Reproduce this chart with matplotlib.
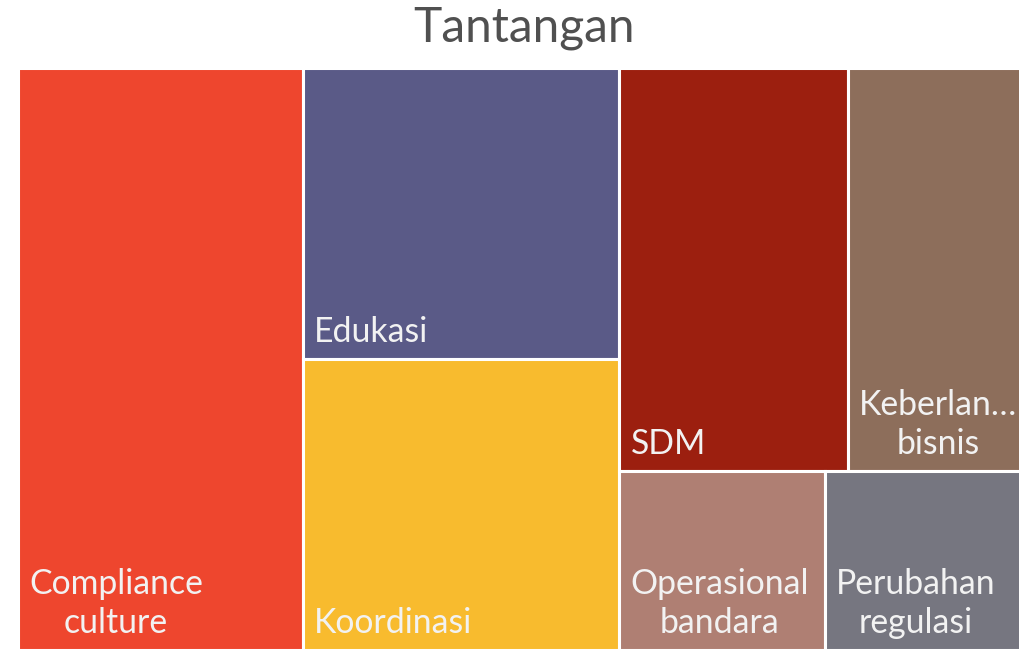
import matplotlib
matplotlib.use("Agg")
import matplotlib.pyplot as plt
from matplotlib.patches import Rectangle

# donnees du treemap (trie par valeur decroissante)
labels = ["Compliance\nculture", "Edukasi", "Koordinasi", "SDM",
          "Keberlan…\nbisnis", "Operasional\nbandara", "Perubahan\nregulasi"]
values = [9, 5, 5, 5, 4, 2, 2]
colors = ["#EE462E", "#5A5A87", "#F8BB2E", "#9C1F0F",
          "#8D6E5B", "#AF7F73", "#767680"]
# nombre d'elements par bande (disposition facon Excel)
strip_counts = [1, 2, 2, 1, 1]

plt.rcParams['font.family'] = ['Lato', 'DejaVu Sans']


def strip_layout(vals, counts, x, y, w, h):
    rects = []
    i = 0
    for n in counts:
        grp = vals[i:i + n]
        s = sum(grp)
        frac = s / sum(vals[i:])
        if w >= h:
            # colonne a gauche
            cw = w * frac
            yy = y
            for v in grp:
                rh = h * v / s
                rects.append((x, yy, cw, rh))
                yy += rh
            x += cw
            w -= cw
        else:
            # ligne en haut
            rh = h * frac
            xx = x
            for v in grp:
                rw = w * v / s
                rects.append((xx, y, rw, rh))
                xx += rw
            y += rh
            h -= rh
        i += n
    return rects


W, H = 1013, 582
fig = plt.figure(figsize=(10.2, 6.49), dpi=100)
ax = fig.add_axes([18 / 1020, (649 - 650) / 649, W / 1020, H / 649])
ax.set_xlim(0, W)
ax.set_ylim(H, 0)
ax.axis("off")

rects = strip_layout(values, strip_counts, 0, 0, W, H)
for (x, y, w, h), lab, c in zip(rects, labels, colors):
    ax.add_patch(Rectangle((x, y), w, h, facecolor=c, edgecolor="white",
                           linewidth=2.2, clip_on=False))
    ax.text(x + 11, y + h - 11, lab, ha="left", va="bottom",
            multialignment="center", color="#F2F2F2", fontsize=24.3,
            linespacing=1.27, clip_on=False)

fig.text((18 + W / 2) / 1020, 1 - 28 / 649, "Tantangan", ha="center",
         va="center", fontsize=34.5, color="#505050")

fig.savefig("out.png", dpi=100)
